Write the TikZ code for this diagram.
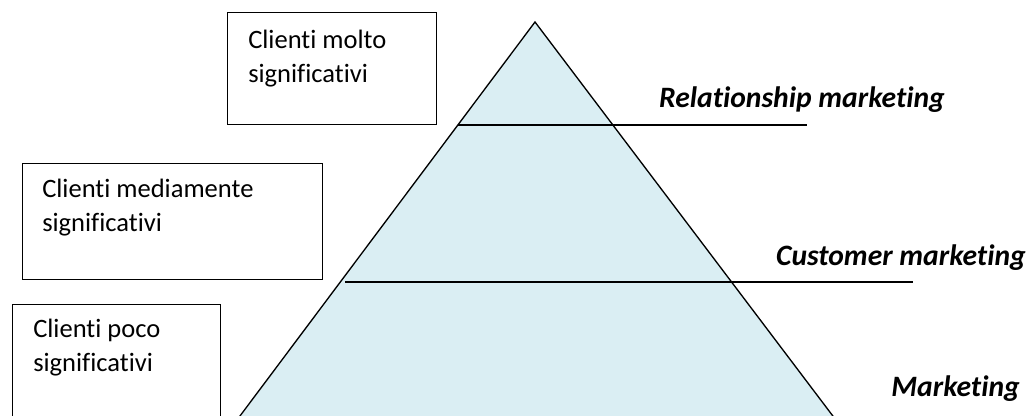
\documentclass[tikz,border=0pt]{standalone}
\usepackage{fontspec}
\setmainfont{Carlito}[Ligatures={NoCommon,NoContextual}]
\definecolor{pyrfill}{RGB}{218,238,243}
\begin{document}
\begin{tikzpicture}[x=0.75pt,y=-0.75pt,
  box/.style={draw=black,line width=1pt,minimum width=#1,inner sep=0pt,anchor=north west},
  boxtext/.style={anchor=base west,inner sep=0pt,align=left,font=\fontsize{19.9}{25.8}\selectfont},
  level/.style={anchor=base east,inner sep=0pt,font=\fontsize{22.2}{26}\selectfont\bfseries\itshape},
  edge/.style={line width=1pt}]
\useasboundingbox (0,0) rectangle (1028,416);
\clip (0,0) rectangle (1028,416);

% pyramid
\coordinate (apex) at (535,22);
\coordinate (bl) at (222,440);
\coordinate (br) at (851,440);
\filldraw[fill=pyrfill,edge] (bl) -- (apex) -- (br);

% dividing lines
\coordinate (r1) at (458,125);
\coordinate (r2) at (807,125);
\coordinate (c1) at (345,282);
\coordinate (c2) at (913,282);
\draw[edge] (r1) -- (r2);
\draw[edge] (c1) -- (c2);

% customer boxes
\node[box=209*0.75pt,minimum height=112*0.75pt] (b1) at (227,12) {};
\node[box=300*0.75pt,minimum height=116*0.75pt] (b2) at (22,163) {};
\node[box=208*0.75pt,minimum height=130*0.75pt] (b3) at (12,304) {};

% the base anchor sits on the last line
\node[boxtext] (t1) at (248,83) {Clienti molto\\significativi};
\node[boxtext] (t2) at (42,232) {Clienti mediamente\\significativi};
\node[boxtext] (t3) at (33,372) {Clienti poco\\significativi};

% marketing levels
\node[level] (l1) at (945,108) {Relationship marketing};
\node[level] (l2) at (1026,266) {Customer marketing};
\node[level] (l3) at (1020,397) {Marketing};
\end{tikzpicture}
\end{document}
